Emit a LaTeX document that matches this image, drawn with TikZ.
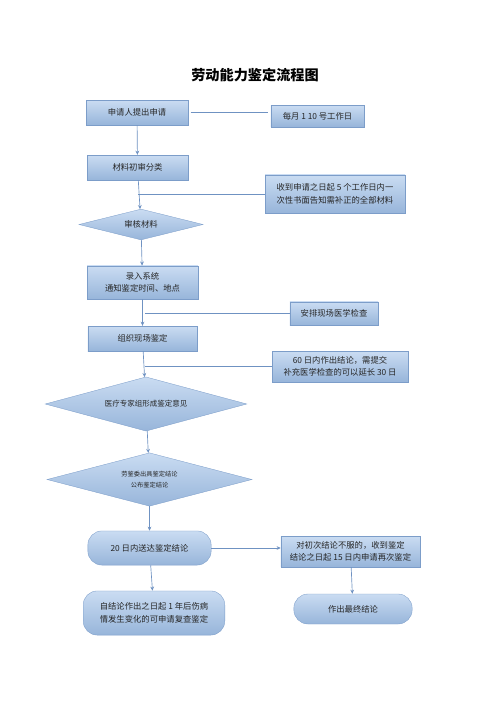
\documentclass[tikz,border=0pt]{standalone}
\usepackage{fontspec}
\setmainfont{Noto Sans CJK SC}
\usepackage{tikz}
\usetikzlibrary{shapes.geometric, arrows.meta}

\definecolor{boxtop}{HTML}{CADCF2}
\definecolor{boxbot}{HTML}{97B5DA}
\definecolor{boxline}{HTML}{7C9DC9}
\definecolor{flowline}{HTML}{6F92C2}

\begin{document}
\begin{tikzpicture}[
  x=1.2pt, y=-1.2pt,
  every node/.style={font=\fontsize{10}{15}\selectfont, text=black!85},
  box/.style={draw=boxline, top color=boxtop, bottom color=boxbot, inner sep=3pt, align=center},
  pill/.style={box, rounded corners=17pt},
  choice/.style={box, diamond, inner sep=1pt},
  flow/.style={draw=flowline, line width=0.8pt},
  >={Stealth[length=5pt, width=4.5pt]}
]
\useasboundingbox (0,0) rectangle (496,702);

\node[font=\fontsize{17}{20}\selectfont\bfseries, text=black] (title) at (255,75) {劳动能力鉴定流程图};

\node[box, minimum width=122pt, minimum height=30pt] (apply) at (137,112.5) {申请人提出申请};
\node[box, minimum width=112pt, minimum height=26pt] (days) at (317.5,116) {每月 1 10 号工作日};
\node[box, minimum width=121pt, minimum height=30pt] (sort) at (137.5,167.5) {材料初审分类};
\node[box, minimum width=168pt, minimum height=46pt, align=left] (notify) at (335,194) {收到申请之日起 5 个工作日内一\\次性书面告知需补正的全部材料};
\node[choice, shape aspect=4, minimum width=149pt, minimum height=37pt] (check) at (141,224.5) {审核材料};
\node[box, minimum width=133pt, minimum height=40pt] (enter) at (142.5,282.5) {录入系统\\通知鉴定时间、地点};
\node[box, minimum width=106pt, minimum height=28pt] (exam) at (334,313.5) {安排现场医学检查};
\node[box, minimum width=131pt, minimum height=30pt] (site) at (142.5,338.5) {组织现场鉴定};
\node[box, minimum width=163pt, minimum height=37pt] (limit) at (340,366.5) {60 日内作出结论，需提交\\补充医学检查的可以延长 30 日};
\node[choice, shape aspect=3.7, minimum width=242pt, minimum height=65pt, font=\fontsize{9}{12}\selectfont] (expert) at (146,404) {医疗专家组形成鉴定意见};
\node[choice, shape aspect=3.8, minimum width=246pt, minimum height=64pt, font=\fontsize{7.5}{14}\selectfont] (board) at (149.5,479.5) {劳鉴委出具鉴定结论\\公布鉴定结论};
\node[pill, minimum width=148pt, minimum height=41pt] (deliver) at (149.5,548) {20 日内送达鉴定结论};
\node[box, minimum width=167pt, minimum height=37pt] (again) at (350.5,551.5) {对初次结论不服的，收到鉴定\\结论之日起 15 日内申请再次鉴定};
\node[pill, minimum width=170pt, minimum height=53pt, align=left] (review) at (154,613) {自结论作出之日起 1 年后伤病\\情发生变化的可申请复查鉴定};
\node[pill, minimum width=142pt, minimum height=36pt] (final) at (353,609) {作出最终结论};

% main line
\draw[flow, ->] (apply) -- (sort);
\draw[flow, ->] (sort) -- (check);
\draw[flow, ->] (check) -- (enter);
\draw[flow, ->] (enter) -- (site);
\draw[flow, ->] (site) -- (expert);
\draw[flow, ->] (expert) -- (board);
\draw[flow, ->] (board) -- (deliver);
\draw[flow, ->] (deliver) -- (review);
\draw[flow, ->] (deliver.east) -- (deliver.east -| again.west);
\draw[flow, ->] (again) -- (final);

% side notes
\draw[flow, shorten <=3pt, shorten >=3pt] (apply.east) -- (apply.east -| days.west);
\draw[flow] (notify.west) -- (notify.west -| sort.south);
\draw[flow, shorten >=3pt] (exam.west) -- (exam.west -| enter.south);
\draw[flow, shorten >=3pt] (limit.west) -- (limit.west -| site.south);
\end{tikzpicture}
\end{document}
